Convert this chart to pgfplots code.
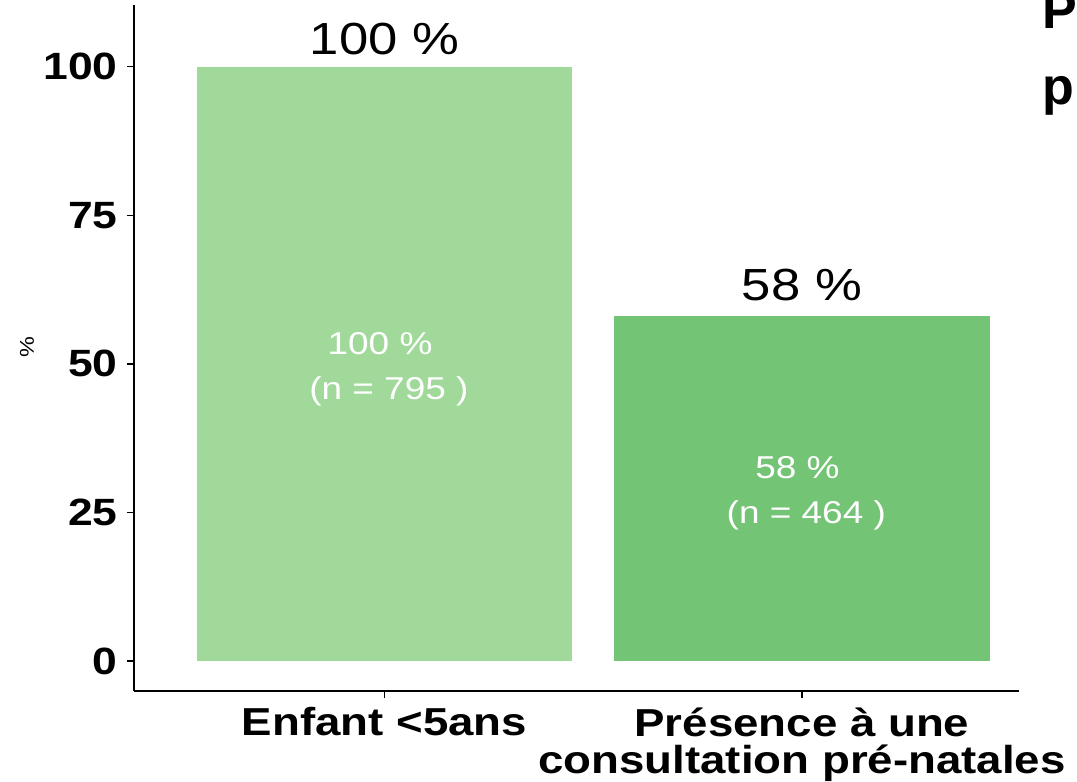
\documentclass[border=0pt]{standalone}
\usepackage{fontspec}
\setmainfont{Liberation Sans}[FakeStretch=1.17]
\newfontfamily\titlefont{Liberation Sans}
\usepackage{pgfplots}
\pgfplotsset{compat=1.18}
\definecolor{gLight}{HTML}{A1D99B}
\definecolor{gMid}{HTML}{74C476}
\begin{document}
\begin{tikzpicture}
% canvas: 1 px of the reference = 0.5pt
\useasboundingbox (0,0) rectangle (538.5pt,-391pt);
\begin{axis}[
  at={(67pt,-345.5pt)}, anchor=south west,
  scale only axis, width=442.5pt, height=343pt,
  xmin=0.4, xmax=2.52, ymin=-5.05, ymax=110.4,
  axis x line*=bottom, axis y line*=left,
  axis line style={black, line width=0.7pt},
  tick style={black, line width=0.6pt},
  tick align=outside, major tick length=3.5pt,
  xtick={1,2}, xticklabels={Enfant <5ans, Présence à une\\consultation pré-natales},
  ytick={0,25,50,75,100}, yticklabels={0,25,50,75,100},
  yticklabel style={font=\fontsize{19}{19}\selectfont\bfseries, inner sep=0pt, xshift=-4.5pt},
  xticklabel style={font=\fontsize{19.5}{18.5}\selectfont\bfseries, align=center, inner sep=0pt, yshift=-4.5pt},
  ybar, bar width=0.9, bar shift=0pt,
  clip=false,
]
\addplot[fill=gLight, draw=none] coordinates {(1,100)};
\addplot[fill=gMid, draw=none] coordinates {(2,58)};
\node[anchor=base, inner sep=0pt, yshift=6pt, font=\fontsize{22.5}{22.5}\selectfont] at (axis cs:1,100) {100 \%};
\node[anchor=base, inner sep=0pt, yshift=8pt, font=\fontsize{22.5}{22.5}\selectfont] at (axis cs:2,58) {58 \%};
\node[align=center, text=white, inner sep=0pt, yshift=-2.5pt, font=\fontsize{15.8}{22.5}\selectfont] at (axis cs:1,50) {100 \%\kern0.28em\\\kern0.28em(n = 795 )};
\node[align=center, text=white, inner sep=0pt, yshift=-2.5pt, font=\fontsize{15.8}{22.5}\selectfont] at (axis cs:2,29) {58 \%\kern0.28em\\\kern0.28em(n = 464 )};
\end{axis}
\node[rotate=90, inner sep=0pt, font=\fontsize{10}{10}\selectfont] at (13.5pt,-173.5pt) {\%};
\node[anchor=base west, inner sep=0pt, font=\fontsize{26}{26}\selectfont\titlefont\bfseries] at (521pt,-14pt) {P};
\node[anchor=base west, inner sep=0pt, font=\fontsize{26}{26}\selectfont\titlefont\bfseries] at (521pt,-52pt) {p};
\end{tikzpicture}
\end{document}
